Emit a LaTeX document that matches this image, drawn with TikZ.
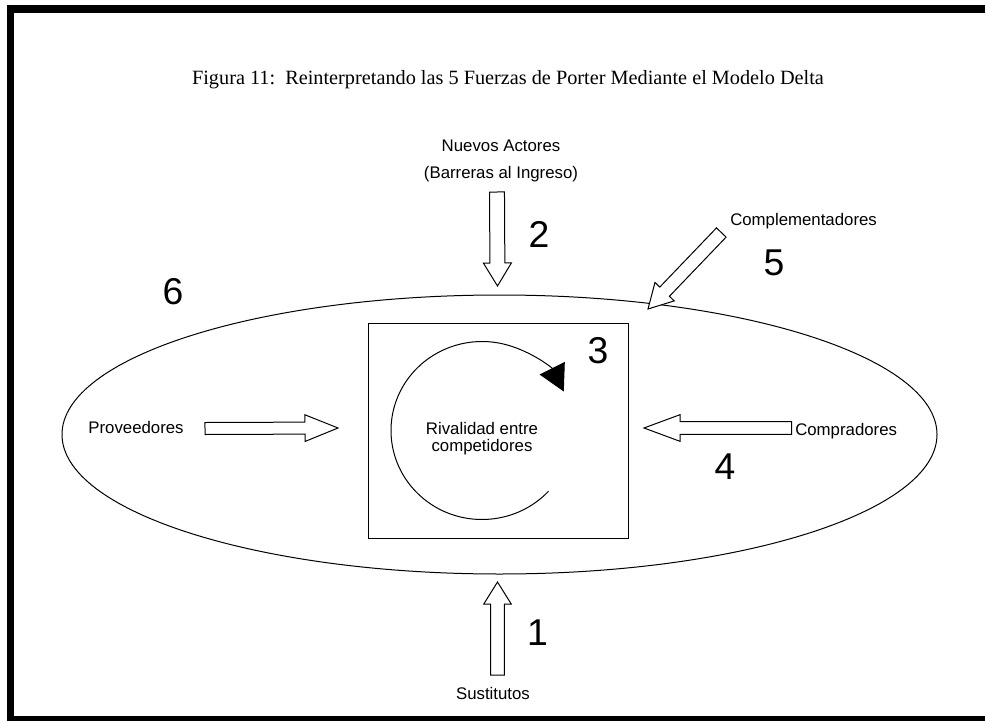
\documentclass[tikz,border=0pt]{standalone}
\usepackage{fontspec}
\setmainfont{Liberation Sans}
\newfontfamily\titlefont{Liberation Serif}
\usetikzlibrary{shapes.geometric,arrows.meta,calc}

\tikzset{
  lbl/.style={inner sep=0pt, font=\fontsize{12.6}{14}\selectfont},
  num/.style={inner sep=0pt, anchor=base, font=\fontsize{28}{30}\selectfont},
  blk/.style={draw=black, fill=white, line width=0.75pt, line join=miter},
  thinline/.style={line width=0.75pt},
}

% block arrow: tail, tip, half shaft width, half head width, head length
\newcommand\blockarrow[5]{%
  \path ($(#2)!#5!(#1)$) coordinate (ba-neck);
  \draw[blk] ($(#1)!#3!90:(#2)$) -- ($(ba-neck)!#3!90:(#2)$)
    -- ($(ba-neck)!#4!90:(#2)$) -- (#2) -- ($(ba-neck)!#4!-90:(#2)$)
    -- ($(ba-neck)!#3!-90:(#2)$) -- ($(#1)!#3!-90:(#2)$) -- cycle;
}

\begin{document}
\begin{tikzpicture}[x=0.75pt,y=-0.75pt]
\useasboundingbox (0,0) rectangle (985,721);
\fill[white] (0,0) rectangle (985,721);

% frame
\fill[black] (7,5) rectangle (985,13);
\fill[black] (7,5) rectangle (14,721);
\fill[black] (7,716) rectangle (985,721);

% title
\node[inner sep=0pt, anchor=base, font=\titlefont\fontsize{15.2}{18}\selectfont] (title) at (508,84)
  {Figura 11:\ \ Reinterpretando las 5 Fuerzas de Porter Mediante el Modelo Delta};

% market ellipse and rivalry box
\node[draw, thinline, ellipse, inner sep=0pt, minimum width=656.25pt, minimum height=209.25pt] (mkt) at (499.5,434.5) {};
\node[draw, thinline, inner sep=0pt, minimum width=195pt, minimum height=161.25pt] (box) at (498,430.5) {};

% rivalry cycle
\coordinate (cyc) at (482,430.5);
\draw[thinline, -{Triangle[length=19.5pt,width=21pt]}]
  ($(cyc)+(43:91 and 89)$) arc[start angle=43, end angle=334, x radius=91, y radius=89];
\node[lbl, align=center, font=\fontsize{12.6}{12.75}\selectfont] (riv) at (482,439) {Rivalidad entre\\competidores};

% new entrants
\node[lbl, align=center, font=\fontsize{12.6}{20.25}\selectfont] (nuevos) at (501,161.4) {Nuevos Actores\\(Barreras al Ingreso)};
\coordinate (a2tail) at (497,192);
\coordinate (a2tip) at (497.5,286);
\blockarrow{a2tail}{a2tip}{5.6pt}{10.5pt}{17.25pt}

% substitutes
\node[lbl, anchor=base] (sust) at (493,699) {Sustitutos};
\coordinate (a1tail) at (497.5,675);
\coordinate (a1tip) at (497.5,582);
\blockarrow{a1tail}{a1tip}{5.1pt}{10.3pt}{16.5pt}

% complementors
\node[lbl, anchor=base west] (compl) at (730,225) {Complementadores};
\coordinate (a5tail) at (721.3,232.5);
\coordinate (a5tip) at (648,309);
\blockarrow{a5tail}{a5tip}{5pt}{10pt}{18pt}

% suppliers
\node[lbl, anchor=base] (prov) at (136,433) {Proveedores};
\coordinate (aptail) at (205,428.5);
\coordinate (aptip) at (338,428);
\blockarrow{aptail}{aptip}{4.5pt}{10pt}{24.75pt}

% buyers
\node[lbl, anchor=base west] (compr) at (795,435) {Compradores};
\coordinate (abtail) at (791.7,428);
\coordinate (abtip) at (644,428);
\blockarrow{abtail}{abtip}{4.7pt}{10pt}{27pt}

% force numbers
\node[num] (n1) at (537.5,645) {1};
\node[num] (n2) at (539,247) {2};
\node[num] (n3) at (598,363) {3};
\node[num] (n4) at (725,479) {4};
\node[num] (n5) at (774,275) {5};
\node[num] (n6) at (173,304) {6};
\end{tikzpicture}
\end{document}
